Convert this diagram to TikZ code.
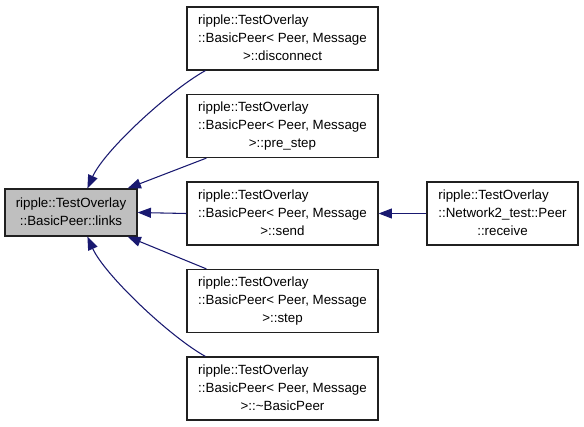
\documentclass[tikz,border=0pt]{standalone}
\usepackage{fontspec}
\setmainfont{Liberation Sans}
\usetikzlibrary{arrows.meta,calc}
\definecolor{edgeblue}{HTML}{191970}
\definecolor{hlgray}{HTML}{BFBFBF}
\definecolor{boxline}{HTML}{202020}
\tikzset{
  box/.style={draw=boxline, line width=0.9pt, inner sep=0pt, minimum width=143.25pt, minimum height=47.25pt, font=\fontsize{10}{13.5}\selectfont, align=center},
  hlbox/.style={box, fill=hlgray, minimum width=99pt, minimum height=35.25pt},
  rbox/.style={box, minimum width=113.25pt},
  conn/.style={draw=edgeblue, line width=0.8pt, -{Triangle[length=10pt,width=7.5pt]}},
}
\newcommand{\tlines}[3]{\begin{tabular}{@{}l@{}}#1\\#2\\\multicolumn{1}{@{}c@{}}{#3}\end{tabular}}
\begin{document}
\begin{tikzpicture}[x=0.75pt,y=-0.75pt]
\useasboundingbox (0,0) rectangle (584,427);
\node[hlbox] (links) at (71,212.5) {\begin{tabular}{@{}c@{}}ripple::TestOverlay\\::BasicPeer::links\end{tabular}};
\node[box] (disc) at (282.5,38.5) {\tlines{ripple::TestOverlay}{::BasicPeer< Peer, Message}{>::disconnect}};
\node[box] (pre) at (282.5,126) {\tlines{ripple::TestOverlay}{::BasicPeer< Peer, Message}{>::pre\_step}};
\node[box] (send) at (282.5,213.5) {\tlines{ripple::TestOverlay}{::BasicPeer< Peer, Message}{>::send}};
\node[box] (stp) at (282.5,301) {\tlines{ripple::TestOverlay}{::BasicPeer< Peer, Message}{>::step}};
\node[box] (dtor) at (282.5,388.5) {\tlines{ripple::TestOverlay}{::BasicPeer< Peer, Message}{>::\textasciitilde BasicPeer}};
\node[rbox] (recv) at (502.5,213.5) {\tlines{ripple::TestOverlay}{::Network2\_test::Peer}{::receive}};
\draw[conn] ($(disc.south west)+(19,0)$) .. controls ($(disc.south west)+(-17,20)$) and ($(links.north west)+(100,-38)$) .. ($(links.north west)+(83,0)$);
\draw[conn] ($(pre.south west)+(20,0)$) -- ($(links.north east)+(-10,0)$);
\draw[conn] (send.west) -- (links.east);
\draw[conn] ($(stp.north west)+(20,0)$) -- ($(links.south east)+(-10,0)$);
\draw[conn] ($(dtor.north west)+(19,0)$) .. controls ($(dtor.north west)+(-17,-20)$) and ($(links.south west)+(100,38)$) .. ($(links.south west)+(83,0)$);
\draw[conn] (recv.west) -- (send.east);
\end{tikzpicture}
\end{document}
